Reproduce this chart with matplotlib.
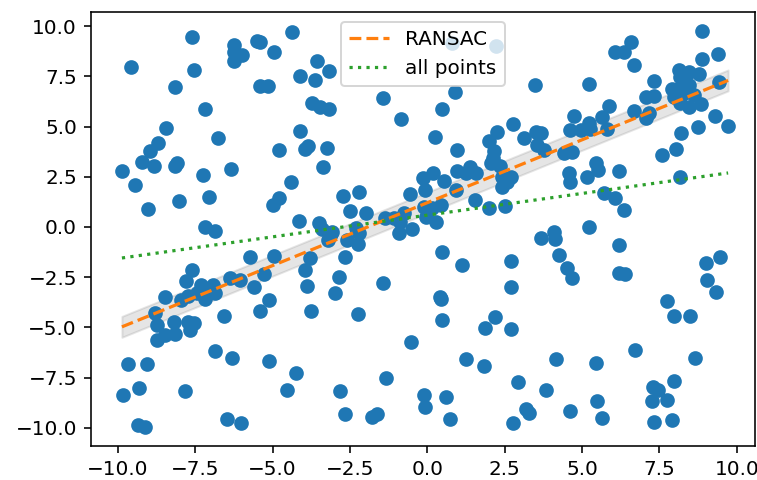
import numpy as np
import matplotlib
matplotlib.use("Agg")
import matplotlib.pyplot as plt

x_pts = [
    -7.59, -9.57, -6.24, -6.24, -6.00, -6.24, -5.52, -5.42, -7.53, -8.17,
    -5.42, -5.16, -7.20, -8.44, -6.75, -8.69, -8.95, -9.23, -8.17, -8.08,
    -8.82, -9.87, -7.24, -6.34, -9.46, -7.07, -8.04, -9.04, -7.18, -6.86,
    -5.72, -7.59, -7.81, -7.31, -6.94, -6.37, -6.05, -5.59, -8.48, -7.97,
    -7.72, -7.45, -7.18, -7.07, -6.86, -8.79, -8.74, -8.20, -8.74, -8.47,
    -8.17, -7.72, -7.53, -7.67, -6.56, -5.42, -6.86, -6.30, -9.66, -9.07,
    -9.31, -9.85, -7.83, -9.36, -9.14, -6.48, -6.02,
    -2.97, -5.13, -3.76, -2.25, -0.53, -5.13, -4.26, -4.55, -2.83, -1.33,
    -2.65, -1.79, -1.62, -0.11, -0.07,
    0.43, 0.48, 1.24, 1.83, 0.59, 0.73, 2.19, 1.86, 2.69, 2.69,
    2.92, 3.82, 4.17, 3.20, 3.28, 2.77, 4.60,
    9.32, 7.76, 7.96, 8.49, 6.72, 8.65, 5.45, 7.96, 7.28, 7.46,
    7.25, 7.76, 5.47, 5.64, 7.33, 7.92,
    7.57, 8.03, 5.45, 5.52, 6.18, 5.16, 8.17, 5.72, 6.07, 6.34,
    5.23, 6.18, 6.18, 6.39, 9.00, 9.46, 9.05,
    -0.15, 0.18, 0.54, -0.07, -0.56, 0.97, 1.24, 1.37, 1.56, 0.91,
    1.54, 1.99, 2.51, 2.15, 2.12, 2.05, 2.34, 2.42, 2.69, 2.40,
    2.58, 4.58, 4.60, -0.11, 0.16, 0.43, -0.05, 0.29, -0.50, 4.41,
    4.68, 3.66, 4.09, 4.14, 4.27, 4.52, 4.66, 0.48, 1.11, 2.69,
    0.40,
    -4.80, -3.94, -3.87, -3.23, -3.37, -4.40, -4.80, -4.98, -2.72, -2.22,
    -2.49, -1.97, -4.16, -3.51, -3.40, -3.08, -3.22, -3.13, -2.59, -2.29,
    -2.22, -2.25, -1.36, -1.09, -0.77, -0.87, -0.93, -2.65, -4.94, -5.29,
    -3.78, -3.94, -3.89, -2.86, -1.43,
    -4.37, -4.94, -3.56, -3.17, -4.13, -3.62, -3.72, -3.46, -3.19, -1.43,
    -0.85, -4.13,
    0.81, 2.21, 3.48, 0.89, 0.46, 0.25, 0.97, 2.77, 2.26, 1.99,
    3.12, 3.52, 3.66, 3.55, 3.77, 4.74, 4.60, 4.95,
    8.89, 6.58, 6.34, 6.06, 6.67, 9.40, 8.89, 5.23, 8.14, 8.46,
    8.79, 8.17, 7.31, 9.43, 7.92, 8.19, 8.46, 7.98, 8.30, 8.62,
    8.17, 8.46, 8.84, 7.06, 7.33, 5.88, 6.69, 7.06, 7.17, 5.66,
    5.23, 5.26, 5.82, 9.29, 8.75, 9.72, 8.19,
]
y_pts = [
    9.44, 7.95, 9.07, 8.72, 8.56, 8.27, 9.27, 9.22, 7.80, 6.95,
    7.01, 7.01, 5.86, 4.91, 4.41, 4.19, 3.78, 3.25, 3.05, 3.18,
    3.03, 2.80, 2.59, 2.87, 2.07, 1.51, 1.31, 0.91, 0.02, -0.18,
    -1.48, -2.14, -2.67, -2.89, -2.89, -2.55, -2.64, -2.97, -3.48, -3.65,
    -3.42, -3.30, -3.60, -3.13, -3.30, -4.26, -4.88, -4.71, -5.62, -5.37,
    -5.32, -4.71, -4.76, -5.12, -4.43, -4.16, -6.17, -6.50, -6.82, -6.82,
    -8.02, -8.36, -8.14, -9.85, -9.94, -9.55, -9.77,
    -3.30, -3.65, -4.16, -4.33, -5.74, -6.65, -7.25, -8.11, -8.14, -7.50,
    -9.30, -9.44, -9.30, -8.36, -8.97,
    -3.58, -4.63, -6.57, -6.92, -8.44, -9.55, -4.46, -5.01, -5.07, -3.00,
    -7.71, -8.11, -6.57, -9.07, -9.27, -9.77, -9.14,
    -3.22, -3.67, -4.43, -4.43, -6.12, -6.50, -6.75, -7.65, -7.98, -8.11,
    -8.64, -8.61, -8.64, -9.49, -9.70, -9.60,
    3.60, 3.87, 3.20, 2.84, 2.80, 2.47, 2.50, 1.68, 1.46, 0.85,
    0.02, -0.90, -2.27, -2.34, -1.78, -1.48, -2.64,
    2.42, 2.70, 2.30, 1.84, 1.63, 2.80, 2.70, 3.00, 2.67, 1.84,
    1.34, 0.93, 1.04, 3.80, 3.45, 3.17, 3.03, 2.50, 2.47, 2.00,
    2.25, 2.67, 2.25, 1.01, 0.93, 1.09, 0.51, 0.26, -0.08, 3.67,
    3.75, -0.56, -0.23, -0.61, -1.39, -2.06, -2.55, -1.23, -1.89, -1.68,
    -3.47,
    3.82, 3.90, 4.03, 3.95, 2.97, 2.25, 1.43, 1.09, 1.54, 1.76,
    0.81, 0.68, 0.31, 0.18, -0.12, -0.23, -0.65, -0.45, -0.65, -0.07,
    -0.31, -0.85, 0.43, 0.43, 0.68, 0.26, -0.31, -1.51, -1.44, -2.34,
    -1.56, -2.14, -2.95, -2.50, -2.80,
    9.72, 8.69, 8.26, 7.76, 7.51, 7.31, 6.15, 5.96, 5.86, 6.40,
    5.36, 4.78,
    9.14, 9.02, 7.06, 6.70, 5.86, 4.46, 3.82, 5.11, 4.74, 4.29,
    4.41, 4.74, 4.66, 4.08, 3.83, 5.52, 4.83, 4.83,
    9.77, 9.22, 8.72, 8.72, 8.06, 8.61, 8.34, 7.11, 7.81, 7.73,
    7.61, 7.48, 7.28, 7.23, 6.85, 6.98, 7.06, 6.45, 6.65, 6.57,
    6.15, 5.99, 6.10, 6.45, 6.52, 6.02, 5.79, 5.41, 5.69, 5.46,
    5.16, 4.86, 4.86, 5.52, 4.99, 5.02, 4.66,
]

ransac_coef = 0.626
ransac_intercept = 1.21
ransac_band = 0.52
all_coef = 0.216
all_intercept = 0.59

xs = np.array(x_pts)
ys = np.array(y_pts)

fig = plt.figure(figsize=(757 / 144, 480 / 144), dpi=144)
ax = fig.add_axes([0.1202, 0.0708, 0.8772, 0.9042])

line_x = np.array([xs.min(), xs.max()])
ransac_y = ransac_coef * line_x + ransac_intercept
all_y = all_coef * line_x + all_intercept

ax.fill_between(line_x, ransac_y - ransac_band, ransac_y + ransac_band,
                color='gray', alpha=0.2, zorder=1)
ax.scatter(xs, ys, s=40, color='C0', zorder=2)
ax.plot(line_x, ransac_y, '--', color='C1', lw=1.6, label='RANSAC', zorder=3)
ax.plot(line_x, all_y, ':', color='C2', lw=1.6, label='all points', zorder=3)

ticks = np.arange(-10, 10.1, 2.5)
ax.set_xticks(ticks)
ax.set_yticks(ticks)
ax.set_xlim(-10.87, 10.59)
ax.set_ylim(-10.9, 10.7)
ax.legend(loc='upper center')

fig.savefig('out.png', dpi=144)
